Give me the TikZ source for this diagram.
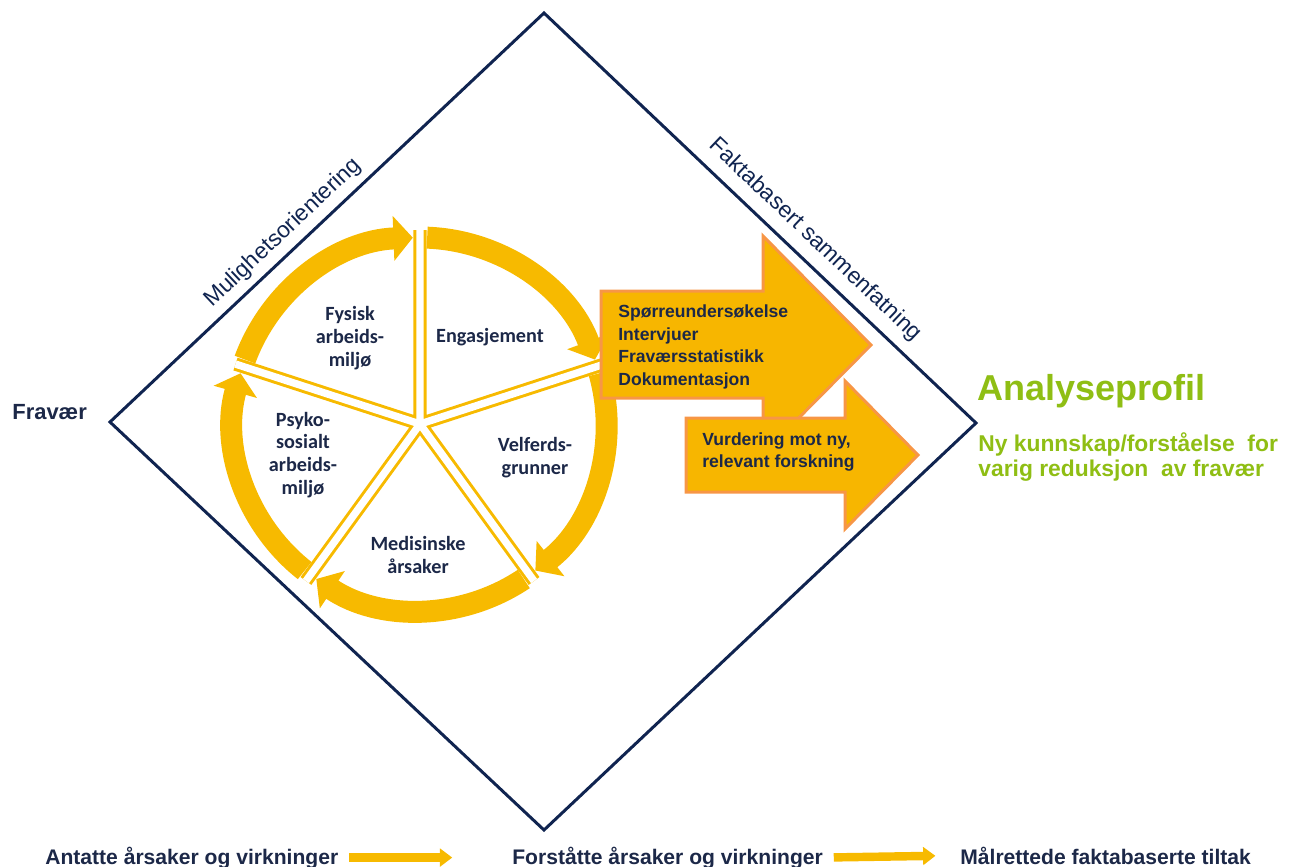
\documentclass[tikz,border=0pt]{standalone}
\usepackage{fontspec}
\setmainfont{Liberation Sans}
\newfontfamily\calibri{Carlito}
\usepackage{tikz}
\usetikzlibrary{arrows.meta, positioning}
\definecolor{navyline}{RGB}{16,36,80}
\definecolor{navytext}{RGB}{28,40,72}
\definecolor{ringyellow}{RGB}{247,186,0}
\definecolor{boxyellow}{RGB}{247,182,0}
\definecolor{boxorange}{RGB}{247,150,70}
\definecolor{profgreen}{RGB}{143,190,20}

\begin{document}
\begin{tikzpicture}[
  x=0.02cm, y=0.02cm,
  frame/.style={draw=navyline, line width=1.7pt, line join=miter},
  edgelbl/.style={font=\fontsize{13}{15}\selectfont, color=navyline},
  ringarr/.style={draw=ringyellow, line width=12.5pt,
              -{Triangle[width=25pt, length=11pt]}},
  spoke/.style={draw=ringyellow, line width=1.7pt,
              double=white, double distance=4.2pt},
  slice/.style={font=\calibri\bfseries\fontsize{11.5}{13}\selectfont,
              color=navytext, align=center},
  bigarrow/.style={draw=boxorange, fill=boxyellow, line width=1.7pt,
              line join=miter},
  boxtxt/.style={font=\bfseries\fontsize{10}{13}\selectfont,
              color=navytext, align=left, inner sep=0pt},
  profile/.style={color=profgreen, inner sep=0pt},
  legtxt/.style={font=\bfseries\fontsize{12}{14}\selectfont,
              color=navytext, inner sep=0pt},
  legarr/.style={draw=ringyellow, line width=4.8pt,
              -{Triangle[width=10pt, length=7pt]}}
]
\useasboundingbox (0,0) rectangle (1293,-866);

% ── Diamond frame ──
\coordinate (dtop)    at (544,-13);
\coordinate (dright)  at (976,-423);
\coordinate (dbottom) at (544,-830);
\coordinate (dleft)   at (110,-422);
\draw[frame] (dtop) -- (dright) -- (dbottom) -- (dleft) -- cycle;

\node[edgelbl, rotate=43.3]  (muligh) at (283,-233) {Mulighetsorientering};
\node[edgelbl, rotate=-43.5] (fakta)  at (815,-240) {Faktabasert sammenfatning};

% ── Cycle of causes: five arcs, then the spokes on top ──
\coordinate (ctr) at (420,-424);
\foreach \a in {162,90,18,-54,-126}
  \draw[ringarr] (ctr) ++({\a-2.2}:186.5)
    arc[start angle={\a-2.2}, end angle={\a-72+2.2}, radius=3.73cm];
\draw[spoke] foreach \a in {90,18,-54,-126,162} {(ctr) -- ++(\a:194)};

\node[slice] (fysisk)  at (350,-338) {Fysisk\\arbeids-\\miljø};
\node[slice] (engasj)  at (490,-337) {Engasjement};
\node[slice] (velferd) at (535,-458) {Velferds-\\grunner};
\node[slice] (medisin) at (418,-555) {Medisinske\\årsaker};
\node[slice] (psyko)   at (303,-455) {Psyko-\\sosialt\\arbeids-\\miljø};

% ── Big arrows: data sources, then research ──
\draw[bigarrow] (601,-291) -- (763,-291) -- (763,-236) -- (871,-345)
  -- (763,-454) -- (763,-398) -- (601,-398) -- cycle;
\draw[bigarrow] (686,-418) -- (845,-418) -- (845,-381) -- (918,-455)
  -- (845,-529) -- (845,-492) -- (686,-492) -- cycle;

\node[boxtxt, anchor=west] (survey) at (618,-347)
  {Spørreundersøkelse\\Intervjuer\\Fraværsstatistikk\\Dokumentasjon};
\node[boxtxt, anchor=west] (research) at (702,-452)
  {Vurdering mot ny,\\relevant forskning};

% ── Left and right ends ──
\node[font=\bfseries\fontsize{12.5}{15}\selectfont, color=navytext,
      anchor=west, inner sep=0pt] (fravaer) at (12,-412) {Fravær};
\node[profile, font=\bfseries\fontsize{20.5}{24}\selectfont,
      anchor=base west] (profil) at (977,-400) {Analyseprofil};
\node[profile, font=\bfseries\fontsize{13}{14.2}\selectfont,
      anchor=west, align=left] (insight) at (978,-457)
  {Ny kunnskap/forståelse\ \ for\\varig reduksjon\ \ av fravær};

% ── Bottom legend ──
\node[legtxt, anchor=base west] (assumed)    at (45,-864)  {Antatte årsaker og virkninger};
\node[legtxt, anchor=base west] (understood) at (512,-864) {Forståtte årsaker og virkninger};
\node[legtxt, anchor=base west] (targeted)   at (960,-864) {Målrettede faktabaserte tiltak};
\draw[legarr, shorten <=6pt, shorten >=34pt] (assumed.east) -- (understood.west);
\draw[legarr, shorten <=6pt, shorten >=14pt] (understood.east) -- (targeted.west);

\end{tikzpicture}
\end{document}
